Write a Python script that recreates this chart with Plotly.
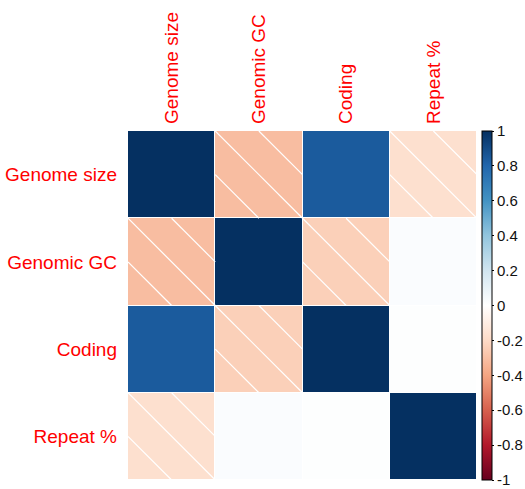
import plotly.graph_objects as go

labels = ["Genome size", "Genomic GC", "Coding", "Repeat %"]
corr = [
    [1.00, -0.31, 0.84, -0.17],
    [-0.31, 1.00, -0.24, 0.02],
    [0.84, -0.24, 1.00, 0.01],
    [-0.17, 0.02, 0.01, 1.00],
]
cbar_ticks = [-1, -0.8, -0.6, -0.4, -0.2, 0, 0.2, 0.4, 0.6, 0.8, 1]
cbar_text = ["-1", "-0.8", "-0.6", "-0.4", "-0.2", "0", "0.2", "0.4", "0.6", "0.8", "1"]
palette = ["#67001F", "#B2182B", "#D6604D", "#F4A582", "#FDDBC7", "#FFFFFF",
           "#D1E5F0", "#92C5DE", "#4393C3", "#2166AC", "#053061"]

n = len(labels)
colorscale = [[i / (len(palette) - 1), c] for i, c in enumerate(palette)]

fig = go.Figure()
fig.add_trace(go.Heatmap(
    z=corr, x=list(range(n)), y=list(range(n)),
    zmin=-1, zmax=1, colorscale=colorscale, xgap=1, ygap=1,
    hoverinfo="skip",
    colorbar=dict(
        x=1.013, xanchor="left", xpad=0, y=0.5, yanchor="middle", ypad=0,
        len=1, lenmode="fraction", thickness=10,
        outlinecolor="black", outlinewidth=1,
        tickvals=cbar_ticks, ticktext=cbar_text,
        ticks="outside", ticklen=2, tickcolor="black",
        tickfont=dict(family="Liberation Sans, Arial", size=15, color="#111111"),
    ),
))

# shading lines for negative correlations (corrplot "shade" style)
lx, ly = [], []
for i in range(n):
    for j in range(n):
        if corr[i][j] < 0:
            cx, cy = j, i
            segs = [((cx - 0.5, cy - 0.5), (cx + 0.5, cy + 0.5)),
                    ((cx, cy - 0.5), (cx + 0.5, cy)),
                    ((cx - 0.5, cy), (cx, cy + 0.5))]
            for (x0, y0), (x1, y1) in segs:
                lx += [x0, x1, None]
                ly += [y0, y1, None]
fig.add_trace(go.Scatter(x=lx, y=ly, mode="lines",
                         line=dict(color="white", width=1.2),
                         hoverinfo="skip", showlegend=False))

lab_font = dict(family="Liberation Sans, Arial", size=19, color="#FF0000")
fig.update_layout(
    width=525, height=489,
    margin=dict(l=128, r=48, t=131, b=9, pad=0, autoexpand=False),
    paper_bgcolor="white", plot_bgcolor="white",
    showlegend=False,
    xaxis=dict(range=[-0.5, n - 0.5], side="top", tickvals=list(range(n)),
               ticktext=labels, tickangle=-90, tickfont=lab_font,
               showgrid=False, zeroline=False, showline=False, ticks="",
               ticklabelstandoff=6, automargin=False, fixedrange=True),
    yaxis=dict(range=[n - 0.5, -0.5], tickvals=list(range(n)),
               ticktext=labels, tickfont=lab_font,
               showgrid=False, zeroline=False, showline=False, ticks="",
               ticklabelstandoff=10, automargin=False, fixedrange=True),
)

fig.write_html("out.html")
